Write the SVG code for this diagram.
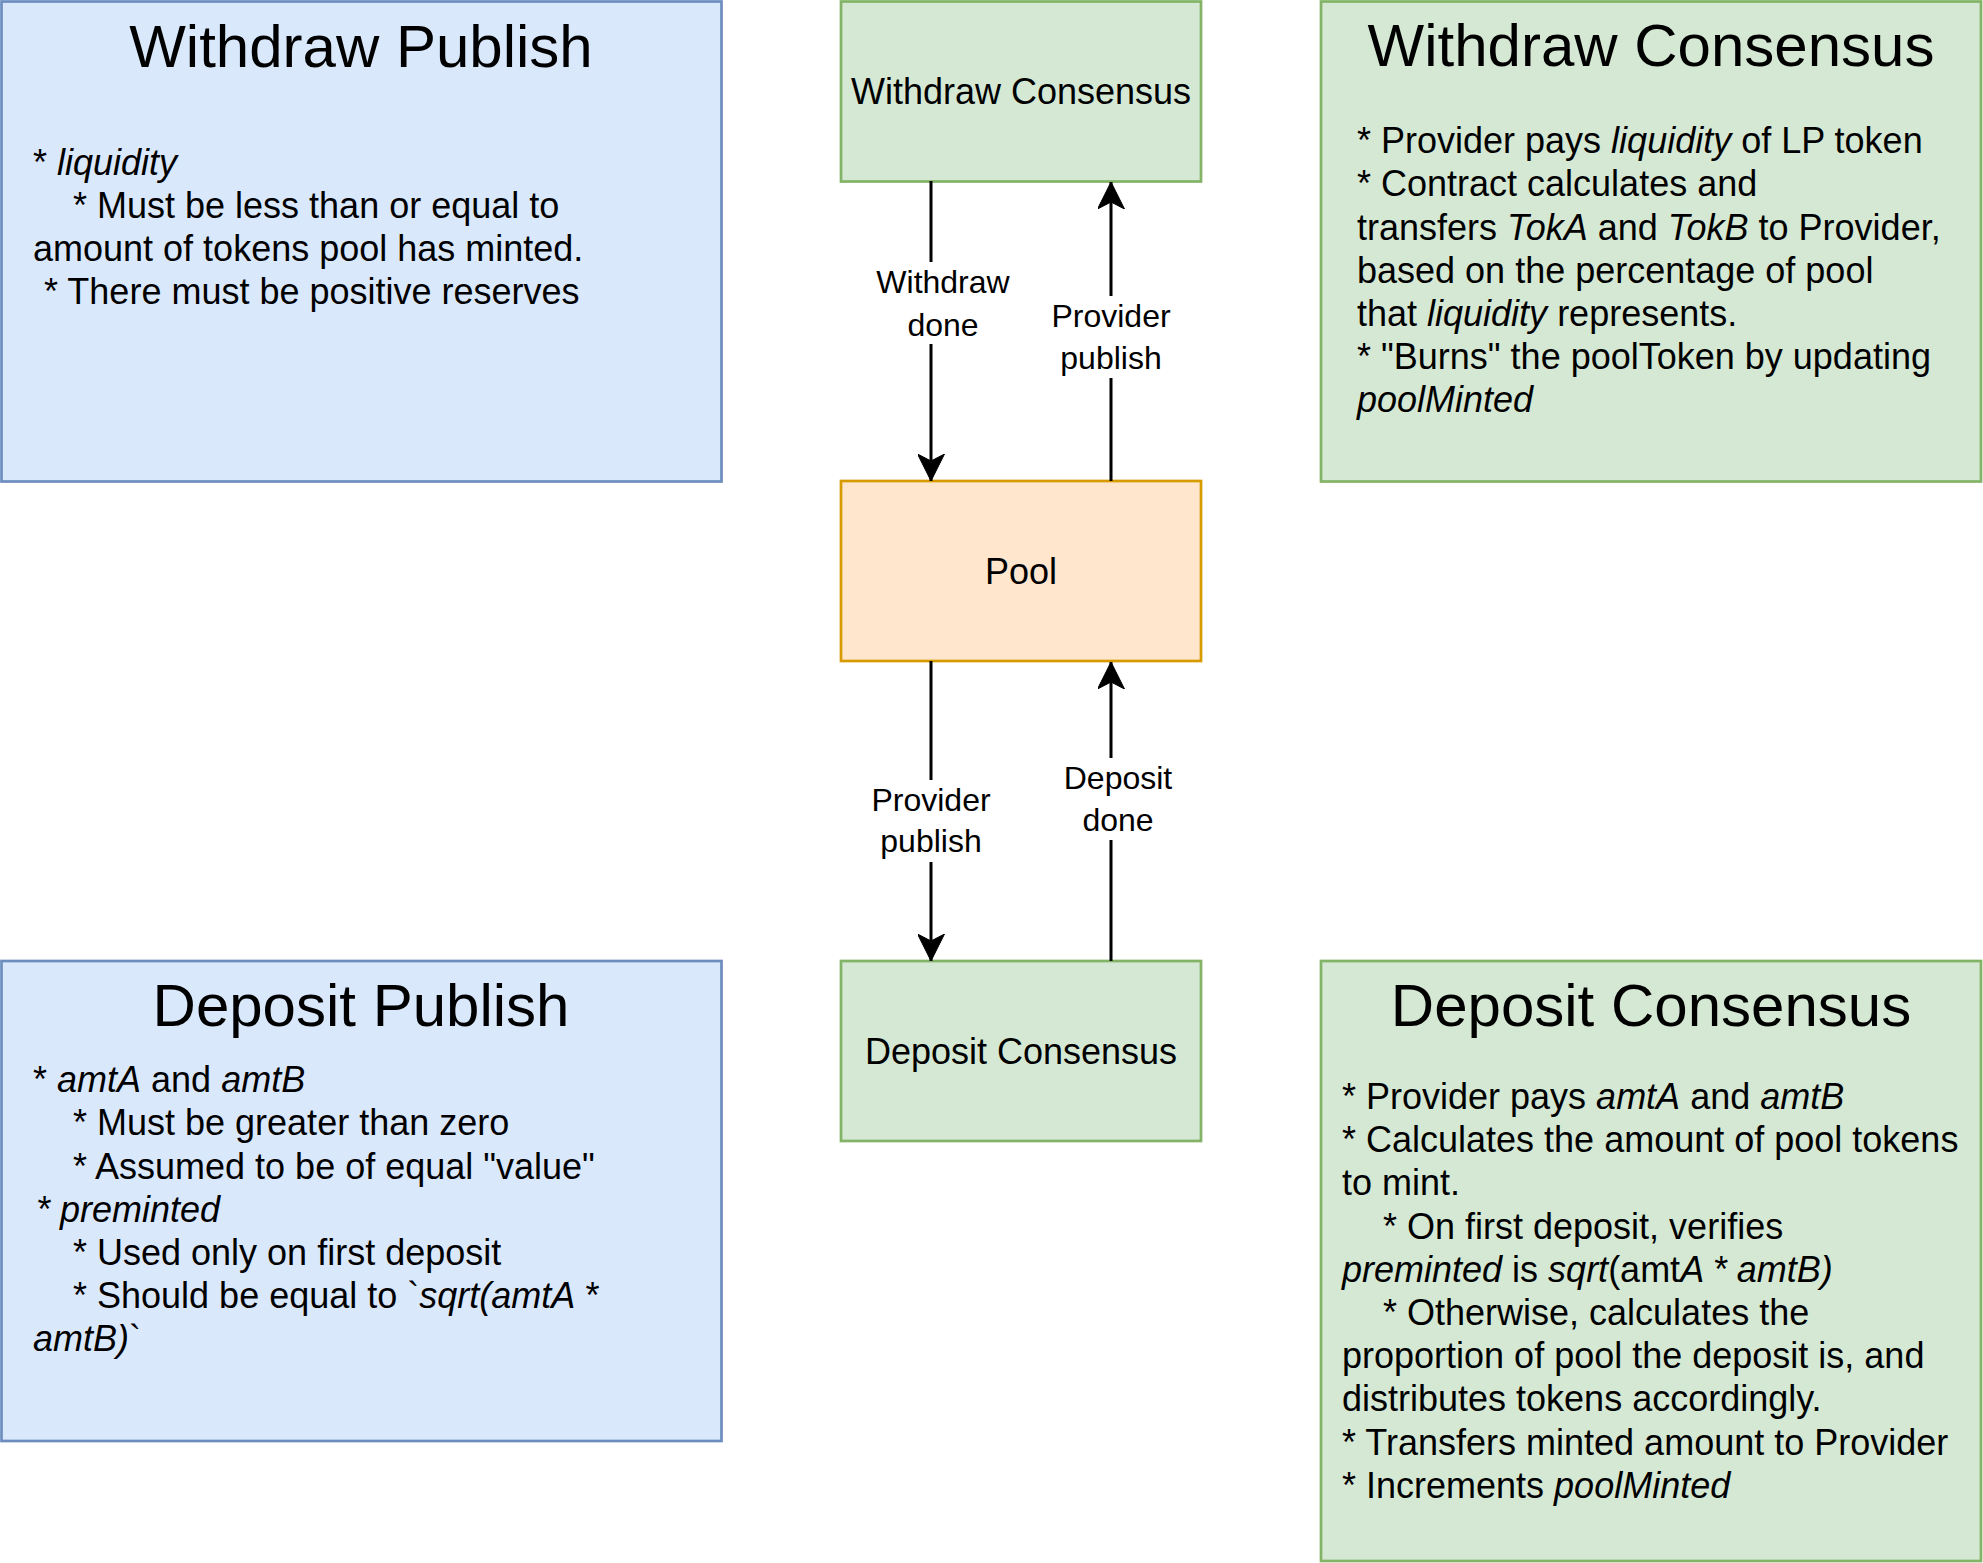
<svg xmlns="http://www.w3.org/2000/svg" width="1983" height="1563" viewBox="0 0 1983 1563">
<style>
text { font-family: "Liberation Sans", Arial, sans-serif; fill: #000; }
.title { font-size: 60px; text-anchor: middle; }
.body { font-size: 36px; }
.center { font-size: 36px; text-anchor: middle; dominant-baseline: central; }
.lbl { font-size: 32px; text-anchor: middle; }
.i { font-style: italic; }
.blue { fill: #dae8fc; stroke: #6c8ebf; stroke-width: 2.7; }
.green { fill: #d5e8d4; stroke: #82b366; stroke-width: 2.7; }
.orange { fill: #ffe6cc; stroke: #d79b00; stroke-width: 2.7; }
.edge { stroke: #000; stroke-width: 3; fill: none; }
.lblbg { fill: #fff; }
</style>
<defs>
<marker id="arrow" viewBox="0 0 27 27" refX="27" refY="13.5" markerWidth="27" markerHeight="27" markerUnits="userSpaceOnUse" orient="auto">
<path d="M0,0 L27,13.5 L0,27 L7,13.5 Z" fill="#000" stroke="#000" stroke-width="1"/>
</marker>
</defs>

<g id="withdraw-publish">
<rect class="blue" x="1.5" y="1.5" width="720" height="480"/>
<text class="title" x="361" y="67">Withdraw Publish</text>
<text class="body" x="33" y="175">* <tspan class="i">liquidity</tspan></text>
<text class="body" x="73" y="218">* Must be less than or equal to</text>
<text class="body" x="33" y="261">amount of tokens pool has minted.</text>
<text class="body" x="44" y="304">* There must be positive reserves</text>
</g>

<g id="withdraw-consensus-node">
<rect class="green" x="841" y="1.5" width="360" height="180"/>
<text class="center" x="1021" y="91">Withdraw Consensus</text>
</g>

<g id="withdraw-consensus-notes">
<rect class="green" x="1321" y="1.5" width="660" height="480"/>
<text class="title" x="1651" y="66">Withdraw Consensus</text>
<text class="body" x="1357" y="153">* Provider pays <tspan class="i">liquidity</tspan> of LP token</text>
<text class="body" x="1357" y="196">* Contract calculates and</text>
<text class="body" x="1357" y="240">transfers <tspan class="i">TokA</tspan> and <tspan class="i">TokB</tspan> to Provider,</text>
<text class="body" x="1357" y="283">based on the percentage of pool</text>
<text class="body" x="1357" y="326">that <tspan class="i">liquidity</tspan> represents.</text>
<text class="body" x="1357" y="369">* "Burns" the poolToken by updating</text>
<text class="body i" x="1357" y="412">poolMinted</text>
</g>

<g id="pool">
<rect class="orange" x="841" y="481" width="360" height="180"/>
<text class="center" x="1021" y="571">Pool</text>
</g>

<g id="deposit-publish">
<rect class="blue" x="1.5" y="961" width="720" height="480"/>
<text class="title" x="361" y="1026">Deposit Publish</text>
<text class="body" x="33" y="1092">* <tspan class="i">amtA</tspan> and <tspan class="i">amtB</tspan></text>
<text class="body" x="73" y="1135">* Must be greater than zero</text>
<text class="body" x="73" y="1179">* Assumed to be of equal "value"</text>
<text class="body i" x="36" y="1222">* preminted</text>
<text class="body" x="73" y="1265">* Used only on first deposit</text>
<text class="body" x="73" y="1308">* Should be equal to `<tspan class="i">sqrt(amtA *</tspan></text>
<text class="body" x="33" y="1351"><tspan class="i">amtB)</tspan>`</text>
</g>

<g id="deposit-consensus-node">
<rect class="green" x="841" y="961" width="360" height="180"/>
<text class="center" x="1021" y="1051">Deposit Consensus</text>
</g>

<g id="deposit-consensus-notes">
<rect class="green" x="1321" y="961" width="660" height="600"/>
<text class="title" x="1651" y="1026">Deposit Consensus</text>
<text class="body" x="1342" y="1109">* Provider pays <tspan class="i">amtA</tspan> and <tspan class="i">amtB</tspan></text>
<text class="body" x="1342" y="1152">* Calculates the amount of pool tokens</text>
<text class="body" x="1342" y="1195">to mint.</text>
<text class="body" x="1383" y="1239">* On first deposit, verifies</text>
<text class="body" x="1342" y="1282"><tspan class="i">preminted</tspan> is <tspan class="i">sqrt</tspan>(amt<tspan class="i">A * amtB)</tspan></text>
<text class="body" x="1383" y="1325">* Otherwise, calculates the</text>
<text class="body" x="1342" y="1368">proportion of pool the deposit is, and</text>
<text class="body" x="1342" y="1411">distributes tokens accordingly.</text>
<text class="body" x="1342" y="1455">* Transfers minted amount to Provider</text>
<text class="body" x="1342" y="1498">* Increments <tspan class="i">poolMinted</tspan></text>
</g>

<g id="connectors">
<g id="e-withdraw-done">
<line class="edge" x1="931" y1="181" x2="931" y2="481" marker-end="url(#arrow)"/>
<rect class="lblbg" x="874" y="262" width="138" height="82"/>
<text class="lbl" x="943" y="293">Withdraw</text>
<text class="lbl" x="943" y="336">done</text>
</g>
<g id="e-provider-publish-withdraw">
<line class="edge" x1="1111" y1="481" x2="1111" y2="182" marker-end="url(#arrow)"/>
<rect class="lblbg" x="1049" y="296" width="124" height="82"/>
<text class="lbl" x="1111" y="327">Provider</text>
<text class="lbl" x="1111" y="369">publish</text>
</g>
<g id="e-provider-publish-deposit">
<line class="edge" x1="931" y1="661" x2="931" y2="961" marker-end="url(#arrow)"/>
<rect class="lblbg" x="869" y="780" width="124" height="82"/>
<text class="lbl" x="931" y="811">Provider</text>
<text class="lbl" x="931" y="852">publish</text>
</g>
<g id="e-deposit-done">
<line class="edge" x1="1111" y1="961" x2="1111" y2="662" marker-end="url(#arrow)"/>
<rect class="lblbg" x="1062" y="758" width="112" height="82"/>
<text class="lbl" x="1118" y="789">Deposit</text>
<text class="lbl" x="1118" y="831">done</text>
</g>
</g>
</svg>
